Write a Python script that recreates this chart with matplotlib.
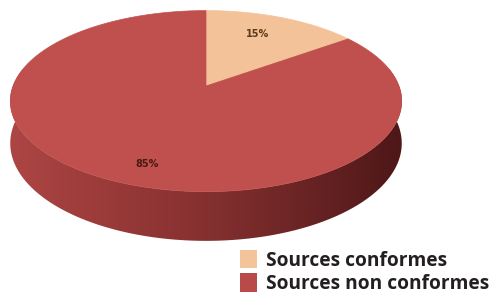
import numpy as np
import matplotlib.pyplot as plt
from matplotlib.patches import Polygon
from matplotlib.colors import LinearSegmentedColormap

labels = ['Sources conformes', 'Sources non conformes']
values = [15, 85]
pct_text = ['15%', '85%']
colors = ['#F4C298', '#C0504E']

fig = plt.figure(figsize=(4.91, 2.98), dpi=100)
ax = fig.add_axes([0, 0, 1, 1])
ax.set_xlim(0, 491)
ax.set_ylim(298, 0)
ax.axis('off')

# tilted disc with a bit of perspective, in pixel space
cx, cy = 206, 86
sx, sy = 193, 88
k = 0.167
depth = 41


def proj(t, dz=0.0):
    u, v = np.cos(t), np.sin(t)
    w = 1 + k * v
    return cx + sx * u / w, cy - sy * v / w + dz / w


fracs = np.array(values) / sum(values)
bounds = np.deg2rad(90 - 360 * np.concatenate([[0], np.cumsum(fracs)]))

# side band (front half), one polygon filled with a left-to-right gradient
ts = np.linspace(np.pi - 0.2, 2 * np.pi + 0.2, 200)
xt, yt = proj(ts)
xb, yb = proj(ts[::-1], depth)
side = Polygon(list(zip(xt, yt)) + list(zip(xb, yb)), closed=True,
               fc='none', ec='none')
ax.add_patch(side)
side_cmap = LinearSegmentedColormap.from_list(
    'side', ['#AC4644', '#9A3A39', '#853030', '#6A2424', '#4E1718'])
grad = np.linspace(0, 1, 256).reshape(1, -1)
im = ax.imshow(grad, cmap=side_cmap, aspect='auto',
               extent=(xt.min(), xt.max(), 250, 60), zorder=1)
im.set_clip_path(side)

# top face wedges
for i, v in enumerate(values):
    t = np.linspace(bounds[i], bounds[i + 1], 120)
    xs, ys = proj(t)
    pts = [(cx, cy)] + list(zip(xs, ys))
    ax.add_patch(Polygon(pts, closed=True, fc=colors[i], ec=colors[i],
                         lw=0.5, zorder=2))

# percentage labels
ax.text(258, 34, pct_text[0], fontsize=7, fontweight='bold', color='#5a3a1a',
        ha='center', va='center', zorder=3)
ax.text(147, 164, pct_text[1], fontsize=7, fontweight='bold', color='#4a1a14',
        ha='center', va='center', zorder=3)

leg = ax.legend(handles=[plt.Rectangle((0, 0), 1, 1, fc='#F3C39A'),
                         plt.Rectangle((0, 0), 1, 1, fc='#B84A48')],
                labels=labels, loc='lower right', bbox_to_anchor=(1.004, 0.0),
                frameon=False, handlelength=0.9, handleheight=1.1,
                handletextpad=0.45, labelspacing=0.15, borderpad=0.1,
                borderaxespad=0.1,
                prop={'family': 'Open Sans', 'weight': 'bold', 'size': 13.8})
for t in leg.get_texts():
    t.set_color('#231f20')

fig.savefig('out.png', dpi=100)
